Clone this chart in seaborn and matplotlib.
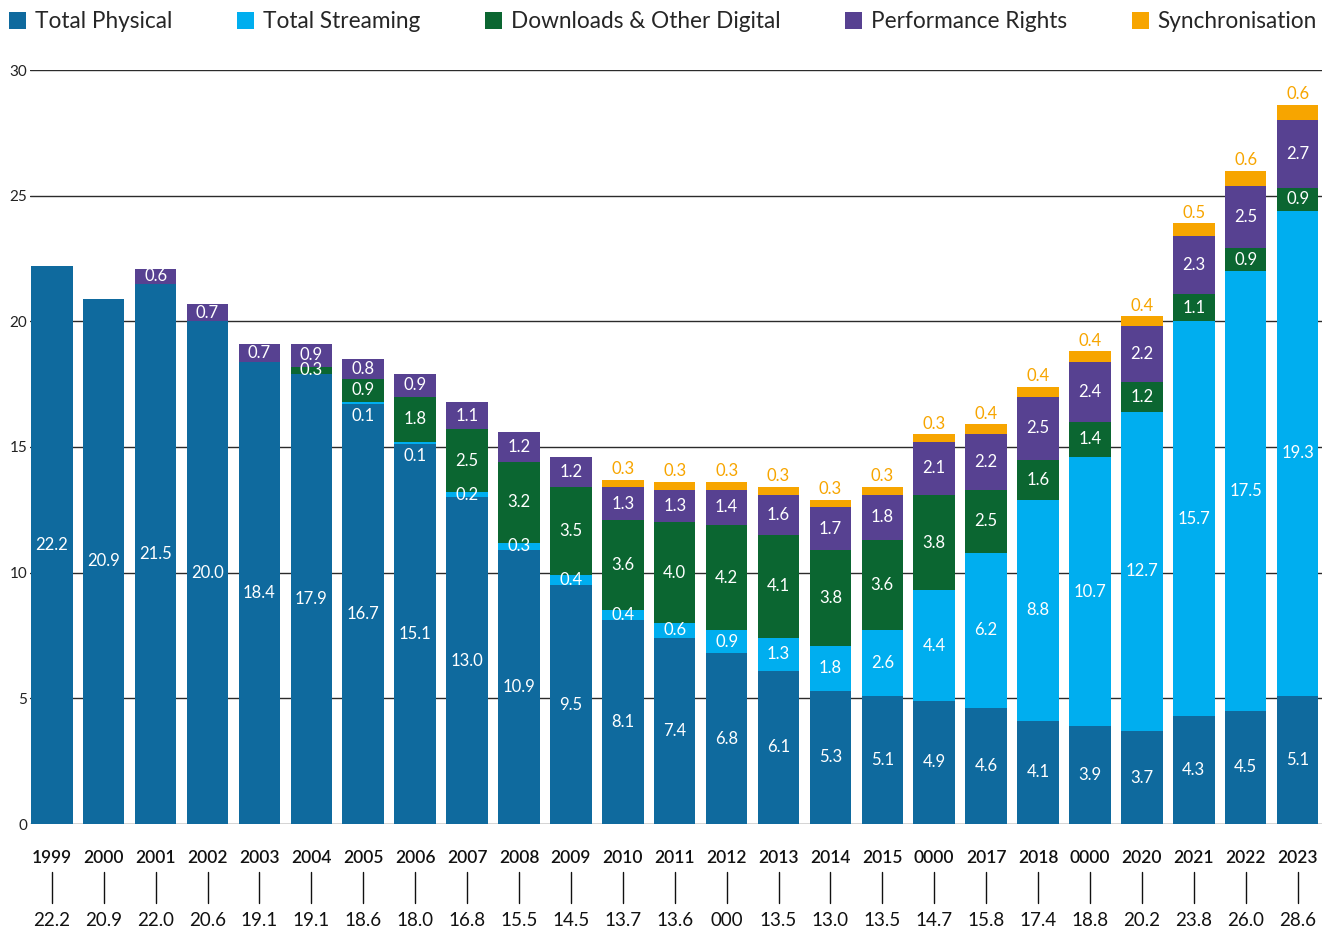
import matplotlib
matplotlib.use("Agg")
import matplotlib.pyplot as plt
from matplotlib.patches import Patch
import numpy as np
import pandas as pd
import seaborn as sns

# ---- data (US$ billions) ----
years = ["1999", "2000", "2001", "2002", "2003", "2004", "2005", "2006", "2007",
         "2008", "2009", "2010", "2011", "2012", "2013", "2014", "2015", "2016",
         "2017", "2018", "2019", "2020", "2021", "2022", "2023"]
year_labels = ["1999", "2000", "2001", "2002", "2003", "2004", "2005", "2006", "2007",
               "2008", "2009", "2010", "2011", "2012", "2013", "2014", "2015", "0000",
               "2017", "2018", "0000", "2020", "2021", "2022", "2023"]
total_labels = ["22.2", "20.9", "22.0", "20.6", "19.1", "19.1", "18.6", "18.0", "16.8",
                "15.5", "14.5", "13.7", "13.6", "000", "13.5", "13.0", "13.5", "14.7",
                "15.8", "17.4", "18.8", "20.2", "23.8", "26.0", "28.6"]

physical = [22.2, 20.9, 21.5, 20.0, 18.4, 17.9, 16.7, 15.1, 13.0, 10.9, 9.5, 8.1, 7.4,
            6.8, 6.1, 5.3, 5.1, 4.9, 4.6, 4.1, 3.9, 3.7, 4.3, 4.5, 5.1]
streaming = [0.0, 0.0, 0.0, 0.0, 0.0, 0.0, 0.1, 0.1, 0.2, 0.3, 0.4, 0.4, 0.6,
             0.9, 1.3, 1.8, 2.6, 4.4, 6.2, 8.8, 10.7, 12.7, 15.7, 17.5, 19.3]
downloads = [0.0, 0.0, 0.0, 0.0, 0.0, 0.3, 0.9, 1.8, 2.5, 3.2, 3.5, 3.6, 4.0,
             4.2, 4.1, 3.8, 3.6, 3.8, 2.5, 1.6, 1.4, 1.2, 1.1, 0.9, 0.9]
performance = [0.0, 0.0, 0.6, 0.7, 0.7, 0.9, 0.8, 0.9, 1.1, 1.2, 1.2, 1.3, 1.3,
               1.4, 1.6, 1.7, 1.8, 2.1, 2.2, 2.5, 2.4, 2.2, 2.3, 2.5, 2.7]
sync = [0.0, 0.0, 0.0, 0.0, 0.0, 0.0, 0.0, 0.0, 0.0, 0.0, 0.0, 0.3, 0.3,
        0.3, 0.3, 0.3, 0.3, 0.3, 0.4, 0.4, 0.4, 0.4, 0.5, 0.6, 0.6]

series_names = ["Total Physical", "Total Streaming", "Downloads & Other Digital",
                "Performance Rights", "Synchronisation"]
series_colors = ["#0f6a9e", "#00aeef", "#0b6631", "#574191", "#f7a500"]

# ---- styling ----
sns.set_theme(style="white")
plt.rcParams["font.family"] = ["Lato", "DejaVu Sans"]

W, H = 1333, 932
fig = plt.figure(figsize=(W / 100, H / 100), dpi=100)
ax_left, ax_right, ax_top, ax_bottom = 30, 1322, 70, 824
ax = fig.add_axes([ax_left / W, 1 - ax_bottom / H,
                   (ax_right - ax_left) / W, (ax_bottom - ax_top) / H])

df = pd.DataFrame({"year": years, "phys": physical, "strm": streaming,
                   "dl": downloads, "perf": performance, "sync": sync})
layers = ["phys", "strm", "dl", "perf", "sync"]
cum = df[layers].cumsum(axis=1)

# stacked bars: draw cumulative totals from the top layer down
for layer, color in reversed(list(zip(layers, series_colors))):
    sns.barplot(x=df["year"], y=cum[layer], order=years, color=color,
                width=0.8, saturation=1, edgecolor="none", linewidth=0, ax=ax,
                zorder=3)

ax.set_ylim(0, 30)
ax.set_xlim(-0.42, len(years) - 1 + 0.47)
ax.set_yticks([0, 5, 10, 15, 20, 25, 30])
ax.yaxis.grid(True, color="#2b2b2b", linewidth=1.0, zorder=0)
ax.xaxis.grid(False)
for s in ax.spines.values():
    s.set_visible(False)
ax.tick_params(axis="y", length=0, pad=2, labelsize=11, labelcolor="#222222")
ax.set_xticks([])
ax.set_xlabel("")
ax.set_ylabel("")

# value labels inside segments
value_fs = 12
for i in range(len(years)):
    base = 0.0
    for layer in layers[:-1]:
        v = df[layer].iloc[i]
        if v > 0:
            yc = base + v / 2
            if v < 0.15:
                yc = base - 0.45
            ax.text(i, yc, f"{v:.1f}", ha="center", va="center", color="white",
                    fontsize=value_fs, zorder=5)
        base += v
    sv = df["sync"].iloc[i]
    if sv > 0:
        ax.annotate(f"{sv:.1f}", (i, base + sv), xytext=(0, 2),
                    textcoords="offset points", ha="center", va="bottom",
                    color=series_colors[4], fontsize=value_fs, zorder=5)

# year / total labels below the axis
ax_h = ax_bottom - ax_top
trans = ax.get_xaxis_transform()
for i in range(len(years)):
    ax.text(i, -(858 - ax_bottom) / ax_h, year_labels[i], transform=trans,
            ha="center", va="center", fontsize=12.5, color="#111111",
            fontweight="semibold")
    ax.plot([i, i], [-(872 - ax_bottom) / ax_h, -(903 - ax_bottom) / ax_h],
            transform=trans, color="#111111", linewidth=1.0, clip_on=False)
    ax.text(i, -(921 - ax_bottom) / ax_h, total_labels[i], transform=trans,
            ha="center", va="center", fontsize=13.5, color="#111111")

# legend across the top
handles = [Patch(facecolor=c, edgecolor="none", label=n)
           for n, c in zip(series_names, series_colors)]
fig.legend(handles=handles, loc="center left", bbox_to_anchor=(9 / W, 1 - 22 / H),
           ncol=5, frameon=False, fontsize=16.3, handlelength=0.75, handleheight=0.75,
           handletextpad=0.4, columnspacing=2.85, borderaxespad=0, borderpad=0)

fig.savefig("out.png", dpi=100)
